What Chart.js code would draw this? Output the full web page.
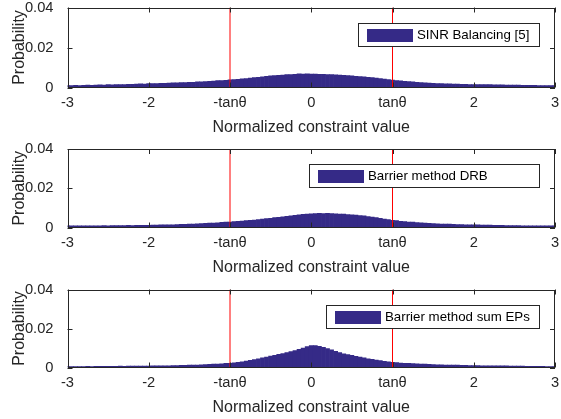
<!DOCTYPE html>
<html><head><meta charset="utf-8">
<script src="https://cdn.jsdelivr.net/npm/chart.js@4.4.0/dist/chart.umd.min.js"></script>
<style>
html,body{margin:0;padding:0;background:#fff;}
#wrap{position:relative;width:561px;height:419px;overflow:hidden;background:#fff;}
.panel{position:absolute;left:0;width:561px;height:140px;}
</style></head><body>
<div id="wrap">
<div class="panel" style="top:0px"><canvas id="c1"></canvas></div>
<div class="panel" style="top:140px"><canvas id="c2"></canvas></div>
<div class="panel" style="top:280px"><canvas id="c3"></canvas></div>
</div>
<script>
// ---- data ----
const binCenters = [
-3.00,-2.95,-2.90,-2.85,-2.80,-2.75,-2.70,-2.65,-2.60,-2.55,
-2.50,-2.45,-2.40,-2.35,-2.30,-2.25,-2.20,-2.15,-2.10,-2.05,
-2.00,-1.95,-1.90,-1.85,-1.80,-1.75,-1.70,-1.65,-1.60,-1.55,
-1.50,-1.45,-1.40,-1.35,-1.30,-1.25,-1.20,-1.15,-1.10,-1.05,
-1.00,-0.95,-0.90,-0.85,-0.80,-0.75,-0.70,-0.65,-0.60,-0.55,
-0.50,-0.45,-0.40,-0.35,-0.30,-0.25,-0.20,-0.15,-0.10,-0.05,
 0.00, 0.05, 0.10, 0.15, 0.20, 0.25, 0.30, 0.35, 0.40, 0.45,
 0.50, 0.55, 0.60, 0.65, 0.70, 0.75, 0.80, 0.85, 0.90, 0.95,
 1.00, 1.05, 1.10, 1.15, 1.20, 1.25, 1.30, 1.35, 1.40, 1.45,
 1.50, 1.55, 1.60, 1.65, 1.70, 1.75, 1.80, 1.85, 1.90, 1.95,
 2.00, 2.05, 2.10, 2.15, 2.20, 2.25, 2.30, 2.35, 2.40, 2.45,
 2.50, 2.55, 2.60, 2.65, 2.70, 2.75, 2.80, 2.85, 2.90, 2.95,
 3.00];

const sinrBalancing = [
.0010,.0010,.0011,.0010,.0011,.0012,.0011,.0012,.0013,.0012,
.0014,.0013,.0014,.0015,.0015,.0016,.0016,.0017,.0018,.0017,
.0019,.0019,.0020,.0021,.0021,.0022,.0023,.0023,.0024,.0025,
.0026,.0026,.0028,.0028,.0030,.0031,.0032,.0034,.0035,.0036,
.0038,.0039,.0041,.0043,.0045,.0047,.0049,.0051,.0053,.0056,
.0058,.0059,.0061,.0062,.0064,.0065,.0066,.0068,.0067,.0068,
.0067,.0067,.0066,.0066,.0065,.0064,.0063,.0062,.0061,.0060,
.0058,.0056,.0055,.0053,.0051,.0049,.0047,.0044,.0042,.0039,
.0037,.0035,.0033,.0031,.0029,.0028,.0026,.0025,.0023,.0022,
.0021,.0020,.0019,.0018,.0018,.0017,.0017,.0016,.0016,.0015,
.0015,.0015,.0014,.0014,.0014,.0013,.0013,.0013,.0012,.0012,
.0012,.0012,.0011,.0011,.0011,.0011,.0010,.0010,.0010,.0010,
.0010];

const barrierDRB = [
.0008,.0008,.0008,.0009,.0008,.0009,.0009,.0009,.0009,.0010,
.0009,.0010,.0010,.0010,.0010,.0011,.0010,.0011,.0011,.0011,
.0011,.0012,.0012,.0013,.0013,.0014,.0014,.0015,.0016,.0016,
.0017,.0018,.0019,.0020,.0021,.0022,.0023,.0024,.0026,.0027,
.0028,.0030,.0031,.0033,.0035,.0036,.0038,.0040,.0043,.0045,
.0047,.0050,.0052,.0055,.0057,.0060,.0062,.0064,.0067,.0069,
.0070,.0071,.0072,.0071,.0072,.0071,.0070,.0069,.0068,.0066,
.0065,.0063,.0061,.0059,.0056,.0053,.0050,.0047,.0043,.0040,
.0037,.0035,.0032,.0030,.0028,.0027,.0025,.0024,.0022,.0021,
.0020,.0019,.0018,.0017,.0017,.0016,.0015,.0015,.0014,.0014,
.0013,.0013,.0012,.0012,.0012,.0011,.0011,.0011,.0010,.0010,
.0010,.0010,.0009,.0009,.0009,.0009,.0009,.0008,.0008,.0008,
.0008];

const barrierSumEPs = [
.0005,.0005,.0005,.0005,.0005,.0006,.0005,.0006,.0006,.0006,
.0006,.0006,.0006,.0007,.0006,.0007,.0007,.0007,.0007,.0007,
.0007,.0008,.0008,.0008,.0009,.0009,.0010,.0010,.0011,.0011,
.0012,.0012,.0013,.0014,.0015,.0016,.0017,.0018,.0019,.0021,
.0022,.0024,.0026,.0029,.0033,.0037,.0041,.0045,.0050,.0054,
.0058,.0062,.0067,.0072,.0077,.0082,.0087,.0093,.0100,.0107,
.0112,.0113,.0108,.0103,.0097,.0090,.0083,.0076,.0070,.0066,
.0062,.0057,.0053,.0049,.0045,.0042,.0038,.0035,.0032,.0029,
.0027,.0025,.0023,.0022,.0021,.0020,.0019,.0018,.0017,.0016,
.0015,.0014,.0014,.0013,.0013,.0012,.0012,.0011,.0011,.0010,
.0010,.0010,.0009,.0009,.0009,.0008,.0008,.0008,.0008,.0007,
.0007,.0007,.0007,.0006,.0006,.0006,.0006,.0006,.0005,.0005,
.0005];

const seriesNames = ['SINR Balancing [5]', 'Barrier method DRB', 'Barrier method sum EPs'];
const xTickValues = [-3, -2, -1, 0, 1, 2, 3];
const xTickLabels = ['-3', '-2', '-tanθ', '0', 'tanθ', '2', '3'];
const yTickValues = [0, 0.02, 0.04];
const yTickLabels = ['0', '0.02', '0.04'];
const thresholdValues = [-1, 1];   // -tanθ, tanθ
const xRange = [-3, 3];
const yRange = [0, 0.04];
const xTitle = 'Normalized constraint value';
const yTitle = 'Probability';

// ---- styling ----
const BAR_COLOR = '#352A87';
const AXIS_COLOR = '#262626';
const FONT = '"Liberation Sans", Arial, Helvetica, sans-serif';

const frameTicks = {
  id: 'frameTicks',
  afterDatasetsDraw(chart) {
    const {ctx, chartArea: a, scales} = chart;
    const L = 5;
    ctx.save();
    ctx.strokeStyle = AXIS_COLOR;
    ctx.lineWidth = 1;
    ctx.beginPath();
    xTickValues.forEach(v => {
      const px = Math.round(scales.x.getPixelForValue(v)) + 0.5;
      ctx.moveTo(px, a.bottom); ctx.lineTo(px, a.bottom - L);
      ctx.moveTo(px, a.top); ctx.lineTo(px, a.top + L);
    });
    yTickValues.forEach(v => {
      const py = Math.round(scales.y.getPixelForValue(v)) + 0.5;
      ctx.moveTo(a.left, py); ctx.lineTo(a.left + L, py);
      ctx.moveTo(a.right, py); ctx.lineTo(a.right - L, py);
    });
    ctx.stroke();
    const l = Math.round(a.left) + 0.5, r = Math.round(a.right) - 0.5;
    const t = Math.round(a.top) + 0.5, b = Math.round(a.bottom) - 0.5;
    ctx.strokeRect(l, t, r - l, b - t);
    ctx.restore();
  }
};

const boxLegend = {
  id: 'boxLegend',
  afterDraw(chart, args, opts) {
    const {ctx, chartArea: a} = chart;
    const ds = chart.data.datasets[0];
    const right = Math.round(a.right - opts.rightInset);
    const top = Math.round(a.top + opts.topInset);
    const w = opts.width, h = opts.height;
    const left = right - w;
    ctx.save();
    ctx.fillStyle = '#fff';
    ctx.fillRect(left, top, w, h);
    ctx.strokeStyle = AXIS_COLOR;
    ctx.lineWidth = 1;
    ctx.strokeRect(left + 0.5, top + 0.5, w, h);
    ctx.fillStyle = ds.backgroundColor;
    ctx.fillRect(left + 9, top + Math.round((h - 13) / 2) + 1, 46, 13);
    ctx.font = '13.3px ' + FONT;
    ctx.fillStyle = '#000';
    ctx.textBaseline = 'middle';
    ctx.textAlign = 'left';
    ctx.fillText(ds.label, left + 9 + 46 + 4, top + h / 2 + 1);
    ctx.restore();
  }
};

function makePanel(id, values, name, padTop, legendWidth) {
  const bars = binCenters.map((x, i) => ({x: x, y: values[i]}));
  const datasets = [{
    type: 'bar', label: name, data: bars,
    backgroundColor: BAR_COLOR, borderWidth: 0,
    barPercentage: 1, categoryPercentage: 1, order: 2
  }];
  thresholdValues.forEach(t => {
    datasets.push({
      type: 'line', label: 'threshold',
      data: [{x: t, y: yRange[0]}, {x: t, y: yRange[1]}],
      borderColor: '#ff0000', borderWidth: 1, pointRadius: 0, order: 1
    });
  });
  new Chart(document.getElementById(id), {
    type: 'bar',
    data: {datasets},
    options: {
      responsive: true, maintainAspectRatio: false, animation: false,
      devicePixelRatio: 1,
      layout: {padding: {left: 0, right: 6, top: padTop, bottom: 0}},
      plugins: {
        legend: {display: false}, tooltip: {enabled: false},
        boxLegend: {width: legendWidth, height: 23, rightInset: 16, topInset: 15}
      },
      scales: {
        x: {
          type: 'linear', min: xRange[0], max: xRange[1], offset: false,
          grid: {display: false, offset: false}, border: {display: false},
          afterBuildTicks: s => { s.ticks = xTickValues.map(v => ({value: v})); },
          afterFit: s => { s.height = 52.5; s.paddingLeft = 0; s.paddingRight = 0; },
          ticks: {
            autoSkip: false, maxRotation: 0, padding: -1, color: AXIS_COLOR,
            font: {family: FONT, size: 14.7},
            callback: v => xTickLabels[xTickValues.indexOf(v)]
          },
          title: {display: true, text: xTitle, color: AXIS_COLOR,
                  font: {family: FONT, size: 16}, padding: {top: 0, bottom: 3}}
        },
        y: {
          type: 'linear', min: yRange[0], max: yRange[1],
          grid: {display: false}, border: {display: false},
          afterBuildTicks: s => { s.ticks = yTickValues.map(v => ({value: v})); },
          afterFit: s => { s.width = 67.5; s.paddingTop = 0; s.paddingBottom = 0; },
          ticks: {
            padding: 6, color: AXIS_COLOR, font: {family: FONT, size: 14.7, lineHeight: 1},
            callback: v => yTickLabels[yTickValues.indexOf(v)]
          },
          title: {display: true, text: yTitle, color: AXIS_COLOR,
                  font: {family: FONT, size: 16}, padding: {top: 10, bottom: 0}}
        }
      }
    },
    plugins: [frameTicks, boxLegend]
  });
}

makePanel('c1', sinrBalancing, seriesNames[0], 7.5, 181);
makePanel('c2', barrierDRB, seriesNames[1], 9, 230);
makePanel('c3', barrierSumEPs, seriesNames[2], 9.5, 213);
</script>
</body></html>
